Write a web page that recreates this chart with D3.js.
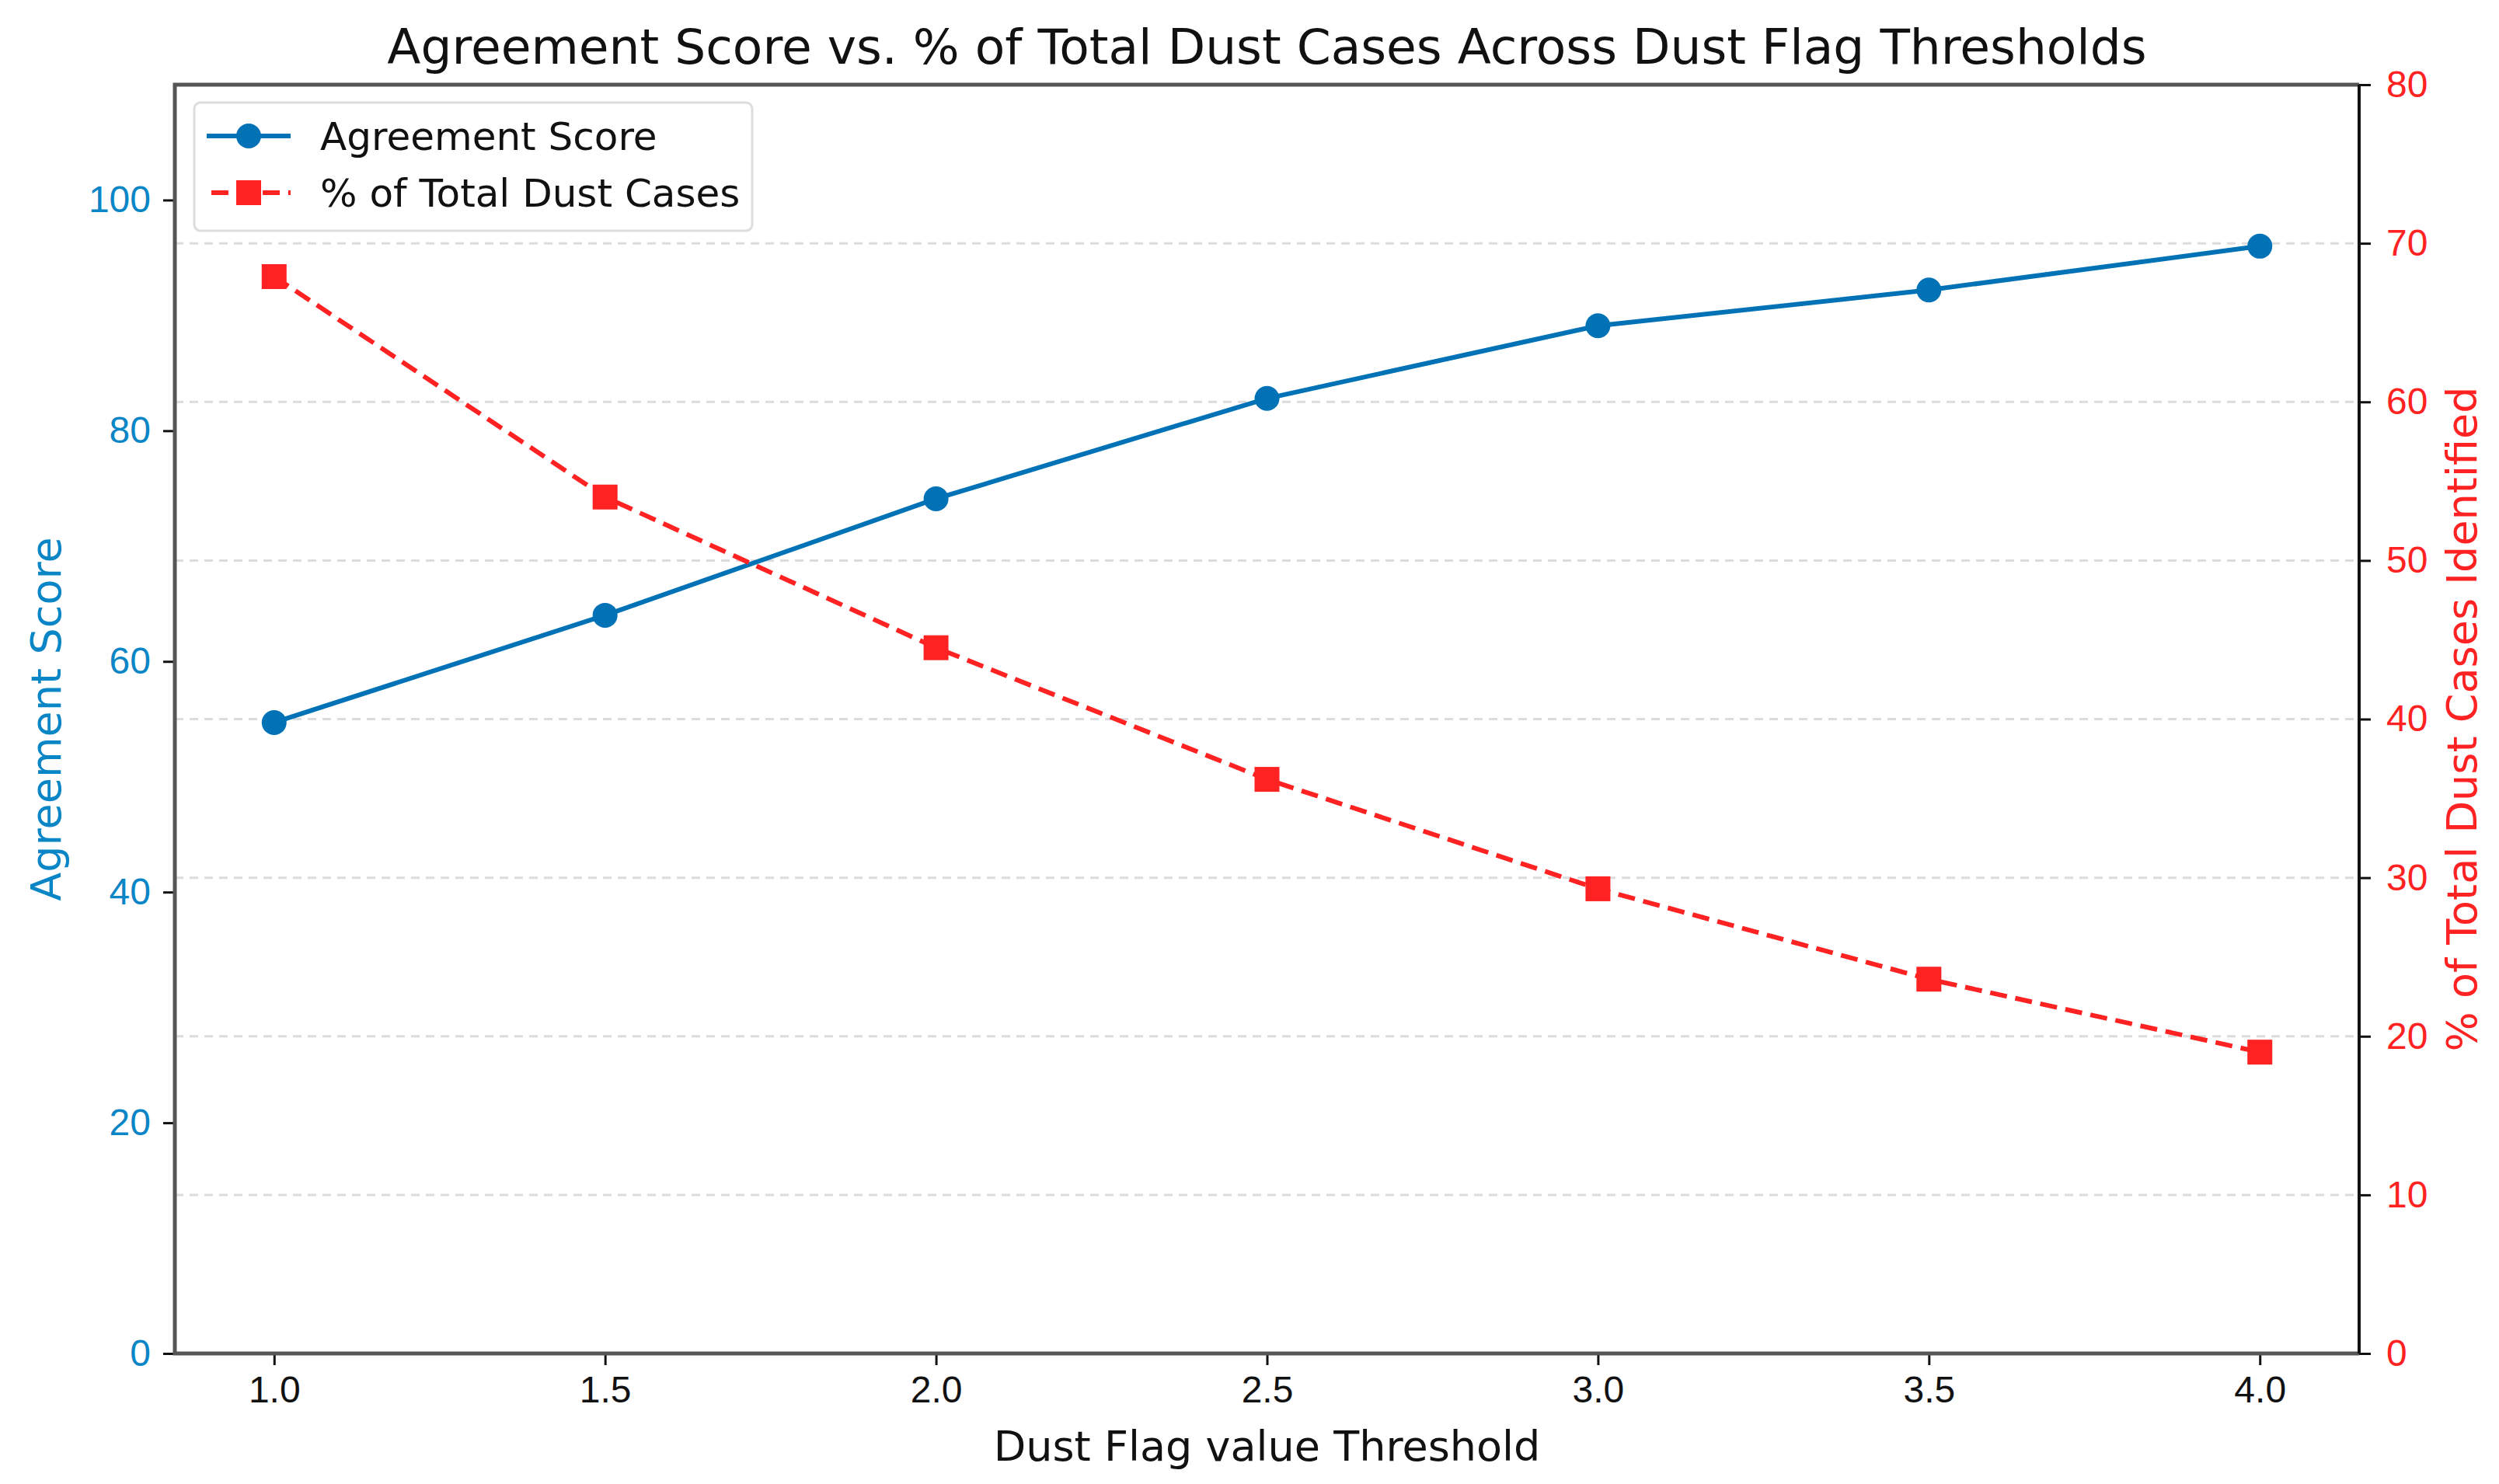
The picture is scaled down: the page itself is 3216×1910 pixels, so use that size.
<!DOCTYPE html>
<meta charset="UTF-8">
<style>
  body { margin: 0; background: #fff; }
  svg { display: block; font-family: "DejaVu Sans", sans-serif; }
  .grid line { stroke: #dcdcdc; stroke-width: 3px; stroke-dasharray: 11 8; }
  .tick text { font-size: 48px; }
</style>
<body>
<script src="https://cdn.jsdelivr.net/npm/d3@7/dist/d3.min.js"></script>
<script>
  // thresholds and series
  var thresholds = [1.0, 1.5, 2.0, 2.5, 3.0, 3.5, 4.0];
  var agreement = [54.7, 64.0, 74.1, 82.8, 89.1, 92.2, 96.0];
  var dustPct = [67.9, 54.0, 44.5, 36.2, 29.3, 23.6, 19.0];
  var leftTicks = [0, 20, 40, 60, 80, 100];
  var rightTicks = [0, 10, 20, 30, 40, 50, 60, 70, 80];

  var blue = "#0072b5", blueText = "#0a86c6", red = "#ff2222";

  var W = 3216, H = 1910;
  var margin = { top: 109, right: 180, bottom: 168, left: 225 },
    width = W - margin.left - margin.right,
    height = H - margin.top - margin.bottom;

  var svg = d3.select("body").append("svg")
    .attr("width", W)
    .attr("height", H);

  var g = svg.append("g")
    .attr("transform", "translate(" + margin.left + "," + margin.top + ")");

  var x = d3.scaleLinear().domain([0.85, 4.15]).range([0, width]);
  var yL = d3.scaleLinear().domain([0, 110]).range([height, 0]);
  var yR = d3.scaleLinear().domain([0, 80]).range([height, 0]);

  // dashed grid from the right axis ticks
  g.append("g").attr("class", "grid")
    .selectAll("line")
    .data(rightTicks.filter(function(t) { return t > 0 && t < 80; }))
    .enter().append("line")
    .attr("x1", 0).attr("x2", width)
    .attr("y1", function(d) { return yR(d); })
    .attr("y2", function(d) { return yR(d); });

  // axes
  var xAxis = g.append("g")
    .attr("transform", "translate(0," + height + ")")
    .call(d3.axisBottom(x).tickValues(thresholds).tickFormat(d3.format(".1f"))
      .tickSize(15).tickPadding(14));
  var lAxis = g.append("g")
    .call(d3.axisLeft(yL).tickValues(leftTicks).tickSize(15).tickPadding(16));
  var rAxis = g.append("g")
    .attr("transform", "translate(" + width + ",0)")
    .call(d3.axisRight(yR).tickValues(rightTicks).tickSize(15).tickPadding(20));

  [xAxis, lAxis, rAxis].forEach(function(a) {
    a.select(".domain").remove();
    a.selectAll(".tick line").attr("stroke", "#111").attr("stroke-width", 3);
  });
  xAxis.selectAll(".tick text").attr("fill", "#111");
  lAxis.selectAll(".tick text").attr("fill", blueText);
  rAxis.selectAll(".tick text").attr("fill", red);

  // frame
  g.append("path")
    .attr("d", "M" + width + ",0H0V" + height + "H" + width)
    .attr("fill", "none").attr("stroke", "#555").attr("stroke-width", 5);
  g.append("line")
    .attr("x1", width).attr("x2", width).attr("y1", 0).attr("y2", height)
    .attr("stroke", "#111").attr("stroke-width", 4);

  // agreement series
  var lineL = d3.line()
    .x(function(d, i) { return x(thresholds[i]); })
    .y(function(d) { return yL(d); });
  g.append("path")
    .datum(agreement)
    .attr("d", lineL)
    .attr("fill", "none").attr("stroke", blue).attr("stroke-width", 6);
  g.selectAll("circle.pt")
    .data(agreement)
    .enter().append("circle")
    .attr("class", "pt")
    .attr("cx", function(d, i) { return x(thresholds[i]); })
    .attr("cy", function(d) { return yL(d); })
    .attr("r", 16)
    .attr("fill", blue);

  // dust series
  var lineR = d3.line()
    .x(function(d, i) { return x(thresholds[i]); })
    .y(function(d) { return yR(d); });
  g.append("path")
    .datum(dustPct)
    .attr("d", lineR)
    .attr("fill", "none").attr("stroke", red).attr("stroke-width", 6)
    .attr("stroke-dasharray", "22 11");
  g.selectAll("rect.pt")
    .data(dustPct)
    .enter().append("rect")
    .attr("class", "pt")
    .attr("x", function(d, i) { return x(thresholds[i]) - 16; })
    .attr("y", function(d) { return yR(d) - 16; })
    .attr("width", 32).attr("height", 32)
    .attr("fill", red);

  // titles
  svg.append("text")
    .attr("x", margin.left + width / 2).attr("y", 82)
    .attr("text-anchor", "middle")
    .attr("font-size", 63)
    .attr("fill", "#111")
    .text("Agreement Score vs. % of Total Dust Cases Across Dust Flag Thresholds");

  svg.append("text")
    .attr("x", margin.left + width / 2).attr("y", 1880)
    .attr("text-anchor", "middle")
    .attr("font-size", 54)
    .attr("fill", "#111")
    .text("Dust Flag value Threshold");

  svg.append("text")
    .attr("transform", "translate(78," + (margin.top + height / 2) + ") rotate(-90)")
    .attr("text-anchor", "middle")
    .attr("font-size", 54)
    .attr("fill", blueText)
    .text("Agreement Score");

  svg.append("text")
    .attr("transform", "translate(3187," + (margin.top + height / 2) + ") rotate(-90)")
    .attr("text-anchor", "middle")
    .attr("font-size", 54)
    .attr("fill", red)
    .text("% of Total Dust Cases Identified");

  // legend
  var legend = svg.append("g").attr("transform", "translate(250,132)");
  legend.append("rect")
    .attr("width", 718).attr("height", 165).attr("rx", 8)
    .attr("fill", "#fff").attr("fill-opacity", 0.85)
    .attr("stroke", "#dddddd").attr("stroke-width", 3);

  var items = [
    { label: "Agreement Score", color: blue, shape: "circle", dash: null },
    { label: "% of Total Dust Cases", color: red, shape: "square", dash: "22 11" }
  ];
  var row = legend.selectAll("g.item")
    .data(items)
    .enter().append("g")
    .attr("class", "item")
    .attr("transform", function(d, i) { return "translate(0," + (43 + i * 73) + ")"; });
  row.append("line")
    .attr("x1", 16).attr("x2", 124)
    .attr("stroke", function(d) { return d.color; })
    .attr("stroke-width", 6)
    .attr("stroke-dasharray", function(d) { return d.dash; })
    .attr("stroke-dashoffset", function(d) { return d.dash ? -6 : null; });
  row.each(function(d) {
    var s = d3.select(this);
    if (d.shape === "circle") {
      s.append("circle").attr("cx", 70).attr("r", 16).attr("fill", d.color);
    } else {
      s.append("rect").attr("x", 54).attr("y", -16).attr("width", 32).attr("height", 32)
        .attr("fill", d.color);
    }
  });
  row.append("text")
    .attr("x", 162).attr("y", 18)
    .attr("font-size", 50)
    .attr("fill", "#111")
    .text(function(d) { return d.label; });
</script>
</body>
